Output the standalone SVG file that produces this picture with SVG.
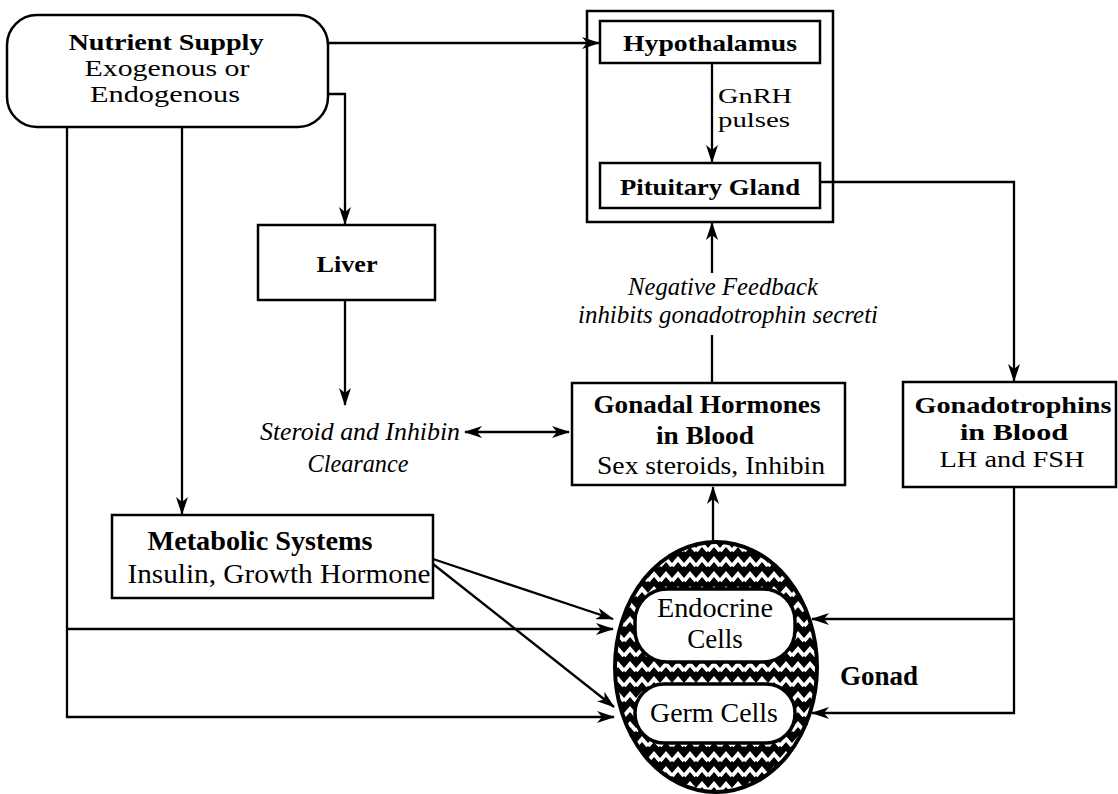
<svg xmlns="http://www.w3.org/2000/svg" width="1118" height="794" viewBox="0 0 1118 794">
<defs>
<style>
.box{fill:#fff;stroke:#000;stroke-width:2.5}
.ln{fill:none;stroke:#000;stroke-width:2.3}
text{font-family:"Liberation Serif",serif;fill:#000;text-anchor:middle}
.b{font-weight:bold}
.i{font-style:italic}
</style>
<marker id="ah" viewBox="0 0 18 12" refX="17" refY="6" markerWidth="18" markerHeight="12" markerUnits="userSpaceOnUse" orient="auto-start-reverse">
<path d="M0,0 L18,6 L0,12 L5,6 z" fill="#000"/>
</marker>
<pattern id="zig" width="12" height="15" patternUnits="userSpaceOnUse">
<rect width="12" height="15" fill="#000"/>
<polyline points="0,11 6,4 12,11" fill="none" stroke="#fff" stroke-width="4"/>
</pattern>
</defs>

<g id="connectors">
<line class="ln" x1="328" y1="43" x2="599" y2="43" marker-end="url(#ah)"/>
<polyline class="ln" points="328,94 345,94 345,224" marker-end="url(#ah)"/>
<line class="ln" x1="345" y1="300" x2="345" y2="405" marker-end="url(#ah)"/>
<line class="ln" x1="465" y1="432" x2="569" y2="432" marker-start="url(#ah)" marker-end="url(#ah)"/>
<line class="ln" x1="712" y1="63" x2="712" y2="162" marker-end="url(#ah)"/>
<polyline class="ln" points="820,182 1014,182 1014,381" marker-end="url(#ah)"/>
<line class="ln" x1="712" y1="273" x2="712" y2="223" marker-end="url(#ah)"/>
<line class="ln" x1="712" y1="335" x2="712" y2="383"/>
<line class="ln" x1="713" y1="588" x2="713" y2="487" marker-end="url(#ah)"/>
<polyline class="ln" points="67,127 67,717 614,717" marker-end="url(#ah)"/>
<line class="ln" x1="67" y1="629" x2="613" y2="629" marker-end="url(#ah)"/>
<line class="ln" x1="182" y1="127" x2="182" y2="514" marker-end="url(#ah)"/>
<line class="ln" x1="433" y1="559" x2="613" y2="619" marker-end="url(#ah)"/>
<line class="ln" x1="433" y1="564" x2="614" y2="707" marker-end="url(#ah)"/>
<polyline class="ln" points="1014,487 1014,713 812,713" marker-end="url(#ah)"/>
<line class="ln" x1="1014" y1="619" x2="812" y2="619" marker-end="url(#ah)"/>
</g>

<g id="nutrient">
<rect class="box" x="7" y="15" width="321" height="112" rx="30" ry="30"/>
<text class="b" x="166" y="50" font-size="23" textLength="195" lengthAdjust="spacingAndGlyphs">Nutrient Supply</text>
<text x="167" y="76" font-size="23" textLength="165" lengthAdjust="spacingAndGlyphs">Exogenous or</text>
<text x="165" y="102" font-size="23" textLength="150" lengthAdjust="spacingAndGlyphs">Endogenous</text>
</g>

<g id="brain">
<rect x="587" y="11" width="246" height="211" fill="none" stroke="#000" stroke-width="2.5"/>
</g>
<g id="hypothalamus">
<rect class="box" x="600" y="21" width="220" height="42"/>
<text class="b" x="710" y="51" font-size="24" textLength="174" lengthAdjust="spacingAndGlyphs">Hypothalamus</text>
</g>
<g id="gnrh">
<text x="755" y="103" font-size="21.5" textLength="74" lengthAdjust="spacingAndGlyphs">GnRH</text>
<text x="754" y="127" font-size="21.5" textLength="72" lengthAdjust="spacingAndGlyphs">pulses</text>
</g>
<g id="pituitary">
<rect class="box" x="600" y="163" width="220" height="45"/>
<text class="b" x="710" y="195" font-size="24" textLength="180" lengthAdjust="spacingAndGlyphs">Pituitary Gland</text>
</g>

<g id="liver">
<rect class="box" x="258" y="225" width="177" height="75"/>
<text class="b" x="347" y="272" font-size="24" textLength="61" lengthAdjust="spacingAndGlyphs">Liver</text>
</g>

<g id="feedback">
<text class="i" x="723" y="295" font-size="25" textLength="190" lengthAdjust="spacingAndGlyphs">Negative Feedback</text>
<text class="i" x="728" y="323" font-size="25" textLength="300" lengthAdjust="spacingAndGlyphs">inhibits gonadotrophin secreti</text>
</g>

<g id="clearance">
<text class="i" x="360" y="440" font-size="26" textLength="200" lengthAdjust="spacingAndGlyphs">Steroid and Inhibin</text>
<text class="i" x="358" y="472" font-size="26" textLength="101" lengthAdjust="spacingAndGlyphs">Clearance</text>
</g>

<g id="gonadal">
<rect class="box" x="572" y="383" width="273" height="102"/>
<text class="b" x="707" y="413" font-size="26" textLength="227" lengthAdjust="spacingAndGlyphs">Gonadal Hormones</text>
<text class="b" x="705" y="444" font-size="26" textLength="98" lengthAdjust="spacingAndGlyphs">in Blood</text>
<text x="711" y="474" font-size="26" textLength="228" lengthAdjust="spacingAndGlyphs">Sex steroids, Inhibin</text>
</g>

<g id="gonadotrophins">
<rect class="box" x="903" y="382" width="213" height="105"/>
<text class="b" x="1013" y="413" font-size="24" textLength="197" lengthAdjust="spacingAndGlyphs">Gonadotrophins</text>
<text class="b" x="1014" y="440" font-size="24" textLength="108" lengthAdjust="spacingAndGlyphs">in Blood</text>
<text x="1012" y="467" font-size="24" textLength="145" lengthAdjust="spacingAndGlyphs">LH and FSH</text>
</g>

<g id="metabolic">
<rect class="box" x="112" y="515" width="321" height="83"/>
<text class="b" x="260" y="550" font-size="27" textLength="225" lengthAdjust="spacingAndGlyphs">Metabolic Systems</text>
<text x="279" y="583" font-size="27" textLength="303" lengthAdjust="spacingAndGlyphs">Insulin, Growth Hormone</text>
</g>

<g id="gonad">
<ellipse cx="716" cy="667" rx="101" ry="125" fill="url(#zig)" stroke="#000" stroke-width="4"/>
<text class="b" x="840" y="685" font-size="27" style="text-anchor:start">Gonad</text>
</g>
<g id="endocrine">
<rect class="box" x="635" y="589" width="160" height="73" rx="32" ry="32" style="stroke-width:3.5"/>
<text x="715" y="617" font-size="27" textLength="116" lengthAdjust="spacingAndGlyphs">Endocrine</text>
<text x="715" y="648" font-size="27">Cells</text>
</g>
<g id="germ">
<rect class="box" x="635" y="684" width="160" height="59" rx="29" ry="29" style="stroke-width:3.5"/>
<text x="714" y="722" font-size="27" textLength="128" lengthAdjust="spacingAndGlyphs">Germ Cells</text>
</g>
</svg>
